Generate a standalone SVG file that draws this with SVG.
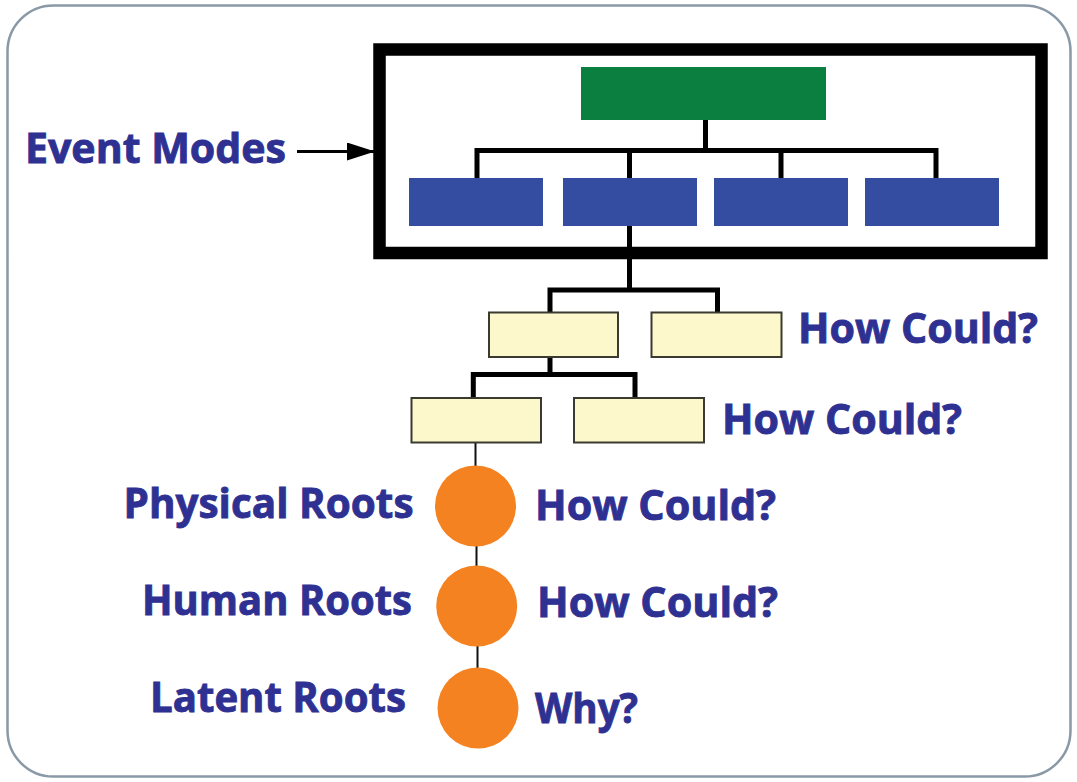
<svg xmlns="http://www.w3.org/2000/svg" width="1077" height="782" viewBox="0 0 1077 782">
<defs>
<marker id="arr" markerWidth="28" markerHeight="18" refX="27" refY="9" orient="auto" markerUnits="userSpaceOnUse" viewBox="0 0 28 18" preserveAspectRatio="none">
<path d="M0,0 L28,9 L0,18 Z" fill="#000"/>
</marker>
<style>
.lbl{font-family:"Open Sans","Noto Sans","Liberation Sans",sans-serif;font-weight:700;font-size:42px;fill:#2e3192;stroke:#2e3192;stroke-width:0.9px}
.blue{fill:#344da0}
.yel{fill:#fcf8cc;stroke:#3a3a30;stroke-width:2}
.orn{fill:#f58220}
.thick{fill:none;stroke:#000;stroke-width:5;stroke-linejoin:miter;stroke-linecap:square}
.thin{fill:none;stroke:#111;stroke-width:2}
</style>
</defs>
<rect x="0" y="0" width="1077" height="782" fill="#fff"/>
<rect id="border" x="7.5" y="5.5" width="1063" height="771" rx="46" ry="46" fill="#fff" stroke="#8a99a6" stroke-width="2.5"/>

<g id="connectors">
<path class="thick" d="M705.5,120 V150.5 M477,178 V150.5 H936 V178 M629.5,150.5 V178 M781,150.5 V178"/>
<path class="thick" d="M629.5,226 V290 M550,312 V290 H717.5 V312"/>
<path class="thick" d="M550,357 V374.5 M473.3,397 V374.5 H635 V397"/>
<path class="thin" d="M475.5,443 V506 M476.5,546 V606 M477.5,646 V708"/>
<line x1="297" y1="151.5" x2="374" y2="151.5" stroke="#000" stroke-width="3" marker-end="url(#arr)"/>
</g>

<g id="event-modes-frame">
<rect x="379.5" y="49.5" width="662" height="203.5" fill="none" stroke="#000" stroke-width="12.5"/>
</g>
<g id="top-event"><rect x="581" y="67" width="245" height="53" fill="#0b7f3f"/></g>
<g id="mode-1"><rect class="blue" x="409" y="178" width="134" height="48"/></g>
<g id="mode-2"><rect class="blue" x="563" y="178" width="134" height="48"/></g>
<g id="mode-3"><rect class="blue" x="714" y="178" width="134" height="48"/></g>
<g id="mode-4"><rect class="blue" x="865" y="178" width="134" height="48"/></g>

<g id="cause-1a"><rect class="yel" x="489" y="312.5" width="129" height="44.5"/></g>
<g id="cause-1b"><rect class="yel" x="651.5" y="312.5" width="130" height="44.5"/></g>
<g id="cause-2a"><rect class="yel" x="411.5" y="398" width="129.5" height="44.5"/></g>
<g id="cause-2b"><rect class="yel" x="574" y="398" width="130" height="44.5"/></g>

<g id="physical-roots"><circle class="orn" cx="475.5" cy="506" r="40.5"/></g>
<g id="human-roots"><circle class="orn" cx="476.7" cy="606" r="40.5"/></g>
<g id="latent-roots"><circle class="orn" cx="478" cy="708" r="40.5"/></g>

<g id="labels">
<text class="lbl" x="25" y="163" textLength="261" lengthAdjust="spacingAndGlyphs">Event Modes</text>
<text class="lbl" x="798" y="343" textLength="240" lengthAdjust="spacingAndGlyphs">How Could?</text>
<text class="lbl" x="722" y="434" textLength="240" lengthAdjust="spacingAndGlyphs">How Could?</text>
<text class="lbl" x="535" y="520" textLength="241" lengthAdjust="spacingAndGlyphs">How Could?</text>
<text class="lbl" x="537" y="617" textLength="241" lengthAdjust="spacingAndGlyphs">How Could?</text>
<text class="lbl" x="535" y="722.5" textLength="103" lengthAdjust="spacingAndGlyphs">Why?</text>
<text class="lbl" x="123.5" y="518" textLength="290" lengthAdjust="spacingAndGlyphs">Physical Roots</text>
<text class="lbl" x="142" y="615" textLength="270" lengthAdjust="spacingAndGlyphs">Human Roots</text>
<text class="lbl" x="150" y="712" textLength="256" lengthAdjust="spacingAndGlyphs">Latent Roots</text>
</g>
</svg>
